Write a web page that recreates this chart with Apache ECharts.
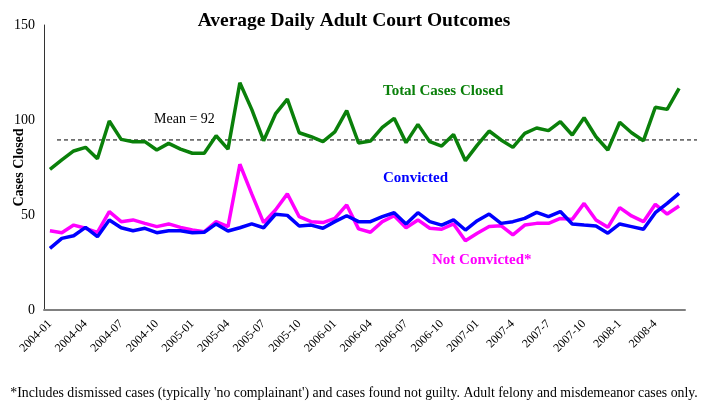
<!DOCTYPE html>
<html>
<head>
<meta charset="utf-8">
<script src="https://cdn.jsdelivr.net/npm/echarts@6/dist/echarts.min.js"></script>
<style>
html,body{margin:0;padding:0;background:#fff;}
#chart{width:708px;height:406px;}
</style>
</head>
<body>
<div id="chart"></div>
<script>
// Categories (months, 2004-01 .. 2008-6)
const months = [
  "2004-01","2004-02","2004-03","2004-04","2004-05","2004-06","2004-07","2004-08","2004-09","2004-10","2004-11","2004-12",
  "2005-01","2005-02","2005-03","2005-04","2005-05","2005-06","2005-07","2005-08","2005-09","2005-10","2005-11","2005-12",
  "2006-01","2006-02","2006-03","2006-04","2006-05","2006-06","2006-07","2006-08","2006-09","2006-10","2006-11","2006-12",
  "2007-01","2007-2","2007-3","2007-4","2007-5","2007-6","2007-7","2007-8","2007-9","2007-10","2007-11","2007-12",
  "2008-1","2008-2","2008-3","2008-4","2008-5","2008-6"
];

const totalClosed = [
  74,79,83.7,85.6,79.6,99.5,89.8,88.6,88.6,84.2,87.7,84.7,
  82.5,82.5,91.7,84.7,119.6,105.6,89.1,103.2,111,93.3,91.2,88.6,
  93.7,104.9,87.9,88.9,96.1,100.9,88.1,97.7,88.6,86.3,92.4,78.6,
  86.8,94.2,89.5,85.6,93,95.8,94.4,99.1,92.1,101.2,91.2,84.2,
  98.8,93.3,89.1,106.7,105.6,116.7
];

const convicted = [
  32.4,37.7,39.1,43.5,38.6,47.4,43.3,41.7,43,40.7,41.7,41.7,
  40.7,40.9,45.3,41.6,43.3,45.3,43.3,50.4,49.8,44.2,44.7,43,
  46.5,49.6,46.5,46.5,49.1,51.2,45.3,51.2,46.5,44.7,47.4,42.1,
  47,50.5,45.6,46.5,48.2,51.4,49.1,51.8,45.3,44.7,44.2,40.4,
  45.3,43.9,42.5,51.2,56.1,61.4
];

const notConvicted = [
  41.7,40.7,44.7,43,40.9,51.8,46.5,47.4,45.6,43.9,45.3,43.5,
  42.1,41.2,46.5,43.9,76.7,61.1,46,52.6,61.1,49.1,46.5,46,
  48.2,55.3,42.7,40.9,46.5,49.6,43.3,47.4,43,42.5,45.3,36.5,
  40.4,43.9,44.4,39.5,44.7,45.6,45.6,48.2,47.7,56.1,47.4,43.5,
  53.9,49.5,46.5,55.6,50.5,54.7
];

const yTicks = [0, 50, 100, 150];
const meanValue = 89.5;
const meanLabel = "Mean = 92";

const serif = '"Liberation Serif","Times New Roman",serif';
const chart = echarts.init(document.getElementById('chart'), null, {renderer: 'canvas'});

const option = {
  animation: false,
  backgroundColor: '#fff',
  title: {
    text: 'Average Daily Adult Court Outcomes',
    left: 'center',
    top: 6,
    textStyle: {fontFamily: serif, fontWeight: 'bold', fontSize: 19.5, color: '#000'}
  },
  grid: {left: 44, right: 23, top: 25, bottom: 96, containLabel: false, outerBoundsMode: 'none'},
  xAxis: {
    type: 'category',
    data: months,
    boundaryGap: true,
    axisLine: {lineStyle: {color: '#808080', width: 2}},
    axisTick: {show: false},
    axisLabel: {
      interval: 2,
      rotate: 45,
      margin: 12,
      fontFamily: serif,
      fontSize: 12,
      color: '#000'
    }
  },
  yAxis: {
    type: 'value',
    min: yTicks[0],
    max: yTicks[yTicks.length - 1],
    interval: 50,
    name: 'Cases Closed',
    nameLocation: 'middle',
    nameRotate: 90,
    nameGap: 18,
    nameMoveOverlap: false,
    nameTextStyle: {fontFamily: serif, fontWeight: 'bold', fontSize: 14, color: '#000'},
    axisLine: {show: true, lineStyle: {color: '#333', width: 1}},
    axisTick: {show: false},
    splitLine: {show: false},
    axisLabel: {fontFamily: serif, fontSize: 14, color: '#000', margin: 9}
  },
  series: [
    {
      name: 'Total Cases Closed', type: 'line', data: totalClosed,
      symbol: 'none', lineStyle: {color: '#0a800a', width: 3.5}, itemStyle: {color: '#0a800a'}, z: 3
    },
    {
      name: 'Not Convicted*', type: 'line', data: notConvicted,
      symbol: 'none', lineStyle: {color: '#ff00ff', width: 3.5}, itemStyle: {color: '#ff00ff'}, z: 3
    },
    {
      name: 'Convicted', type: 'line', data: convicted,
      symbol: 'none', lineStyle: {color: '#0000ff', width: 3.5}, itemStyle: {color: '#0000ff'}, z: 4
    }
  ]
};
chart.setOption(option);

const meanY = chart.convertToPixel({yAxisIndex: 0}, meanValue);
chart.setOption({
  graphic: [
    {type: 'line', shape: {x1: 57, y1: meanY, x2: 697, y2: meanY},
     style: {stroke: '#000', lineWidth: 1, lineDash: [4, 3]}, z: 1},
    {type: 'text', left: 154, top: 112,
     style: {text: meanLabel, font: '14px ' + serif, fill: '#000'}},
    {type: 'text', left: 383, top: 84,
     style: {text: 'Total Cases Closed', font: 'bold 15px ' + serif, fill: '#0a800a'}},
    {type: 'text', left: 383, top: 171,
     style: {text: 'Convicted', font: 'bold 15px ' + serif, fill: '#0000ff'}},
    {type: 'text', left: 432, top: 253,
     style: {text: 'Not Convicted*', font: 'bold 15px ' + serif, fill: '#ff00ff'}},
    {type: 'text', left: 'center', top: 386,
     style: {text: "*Includes dismissed cases (typically 'no complainant') and cases found not guilty. Adult felony and misdemeanor cases only.",
             font: '13.8px ' + serif, fill: '#000'}}
  ]
});
</script>
</body>
</html>
